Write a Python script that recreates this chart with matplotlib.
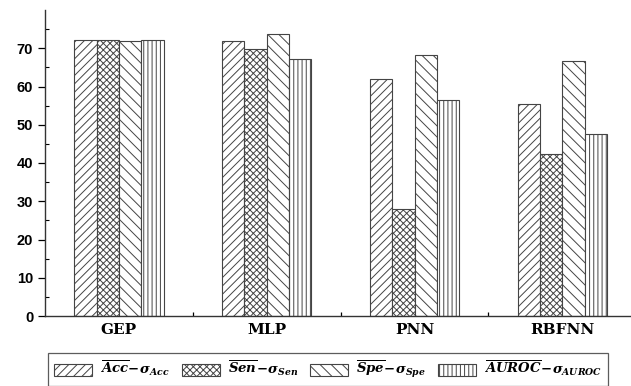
import numpy as np
import matplotlib
matplotlib.use("Agg")
import matplotlib.pyplot as plt

models = ["GEP", "MLP", "PNN", "RBFNN"]
acc = [72.1, 71.8, 61.9, 55.4]
sen = [72.1, 69.7, 28.1, 42.3]
spe = [71.8, 73.8, 68.3, 66.7]
auroc = [72.1, 67.1, 56.6, 47.6]
series_labels = [r"$\overline{Acc}\!-\!\sigma_{Acc}$",
                 r"$\overline{Sen}\!-\!\sigma_{Sen}$",
                 r"$\overline{Spe}\!-\!\sigma_{Spe}$",
                 r"$\overline{AUROC}\!-\!\sigma_{AUROC}$"]
yticks = [0, 10, 20, 30, 40, 50, 60, 70]

plt.rcParams['mathtext.fontset'] = 'custom'
plt.rcParams['mathtext.it'] = 'DejaVu Serif:italic:bold'
plt.rcParams['mathtext.rm'] = 'DejaVu Serif:bold'
plt.rcParams['mathtext.bf'] = 'DejaVu Serif:bold'
plt.rcParams['hatch.linewidth'] = 0.7
plt.rcParams['hatch.color'] = '#444444'

fig = plt.figure(figsize=(6.31, 3.86), dpi=100)
ax = fig.add_axes([45/631, 1 - 316/386, 1 - 45/631, 306/386])

x = np.arange(len(models))
w = 0.151
hatches = ['////', 'xxxxx', '\\\\\\', '||||']
data = [acc, sen, spe, auroc]
for i, (vals, h, lab) in enumerate(zip(data, hatches, series_labels)):
    ax.bar(x + (i - 1.5) * w, vals, w, color='white', edgecolor='#444444',
           hatch=h, linewidth=0.8, label=lab)

ax.set_xlim(-0.5, -0.5 + 586/147.8)
ax.set_ylim(0, 80)
ax.set_yticks(yticks)
ax.set_yticklabels([str(t) for t in yticks], fontweight='bold', fontsize=10.5,
                   family='Liberation Sans')
ax.set_yticks(np.arange(5, 80, 10), minor=True)
ax.tick_params(axis='y', which='major', direction='out', length=5, width=0.9)
ax.tick_params(axis='y', which='minor', direction='in', length=3, width=0.8)

ax.set_xticks(x)
ax.set_xticklabels(models, fontweight='bold', fontsize=11, family='DejaVu Serif')
ax.set_xticks([0.5, 1.5, 2.5], minor=True)
ax.tick_params(axis='x', which='major', length=0, pad=5)
ax.tick_params(axis='x', which='minor', direction='in', length=3, width=0.9)

for s in ['top', 'right']:
    ax.spines[s].set_visible(False)
for s in ['left', 'bottom']:
    ax.spines[s].set_color('#333333')
    ax.spines[s].set_linewidth(1.0)

leg = fig.legend(loc='upper left', bbox_to_anchor=(48/631, 1 - 353/386),
                 ncol=4, fontsize=9.5, frameon=True, fancybox=False,
                 handlelength=2.9, handleheight=1.0, columnspacing=0.9,
                 handletextpad=0.6, borderpad=0.45, borderaxespad=0)
leg.get_frame().set_edgecolor('#333333')
leg.get_frame().set_linewidth(0.9)

fig.savefig("out.png", dpi=100)
